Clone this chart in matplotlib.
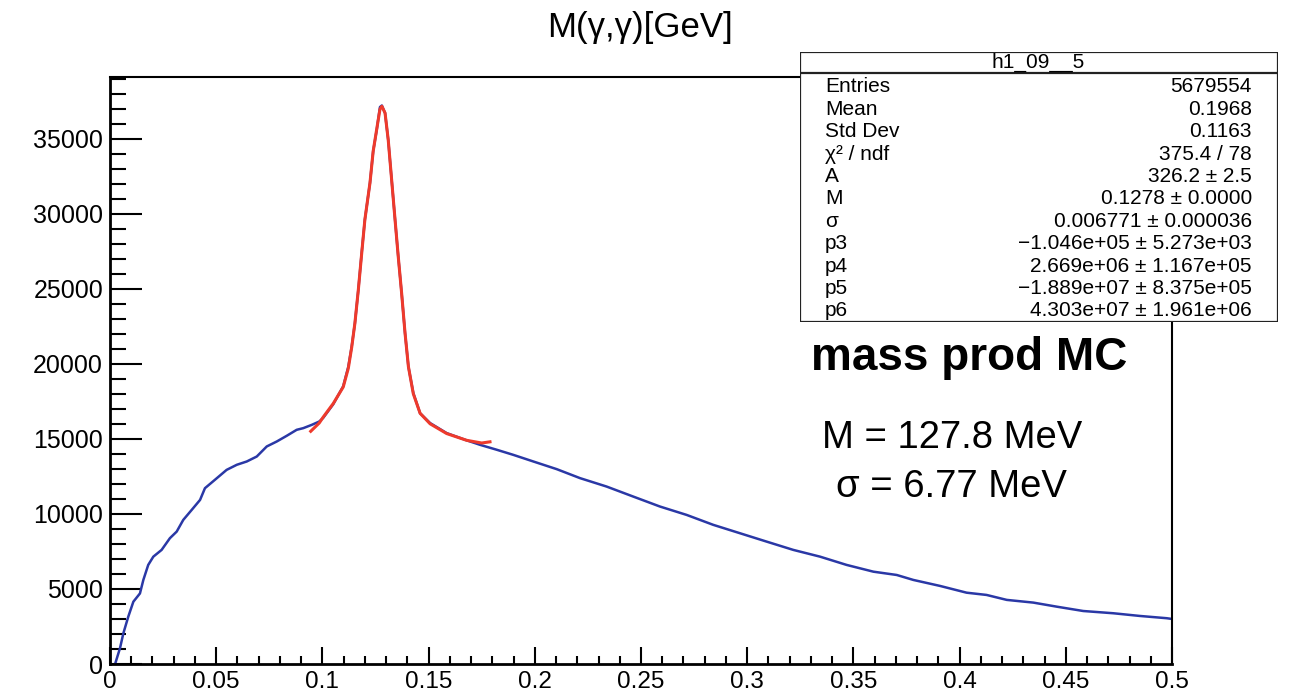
import matplotlib
matplotlib.use("Agg")
import matplotlib.pyplot as plt
from matplotlib.patches import Rectangle
from matplotlib.lines import Line2D
from matplotlib.ticker import MultipleLocator, FuncFormatter

plt.rcParams['font.family'] = ['Liberation Sans', 'DejaVu Sans']

# histogram M(gamma,gamma)
mass = [0.0024, 0.0047, 0.0063, 0.0086, 0.0110, 0.0141, 0.0157, 0.0180, 0.0204, 0.0243,
        0.0282, 0.0314, 0.0345, 0.0385, 0.0424, 0.0447, 0.0494, 0.0549, 0.0597, 0.0644,
        0.0691, 0.0738, 0.0785, 0.0832, 0.0879, 0.0910, 0.0950, 0.0985, 0.1004, 0.1051,
        0.1098, 0.1122, 0.1138, 0.1153, 0.1169, 0.1185, 0.1200, 0.1224, 0.1239, 0.1256,
        0.1271, 0.1280, 0.1295, 0.1310, 0.1326, 0.1342, 0.1357, 0.1373, 0.1389, 0.1405,
        0.1428, 0.1460, 0.1507, 0.1585, 0.1679, 0.1742, 0.1821, 0.1899, 0.1993, 0.2103,
        0.2213, 0.2338, 0.2464, 0.2589, 0.2715, 0.2840, 0.2966, 0.3092, 0.3217, 0.3343,
        0.3468, 0.3594, 0.3704, 0.3782, 0.3908, 0.4033, 0.4127, 0.4222, 0.4347, 0.4457,
        0.4582, 0.4724, 0.4849, 0.4975, 0.5000]
counts = [0, 1050, 2050, 3150, 4150, 4700, 5600, 6600, 7150, 7600,
          8380, 8820, 9600, 10270, 10930, 11710, 12270, 12930, 13270, 13490,
          13820, 14490, 14820, 15200, 15600, 15710, 15930, 16150, 16400, 17300,
          18500, 19800, 21150, 22700, 24900, 27400, 29600, 32050, 34150, 35600,
          37100, 37200, 36700, 34900, 32250, 29600, 27150, 24700, 22050, 19800,
          18050, 16700, 16050, 15380, 14900, 14600, 14270, 13930, 13490, 12980,
          12380, 11820, 11150, 10490, 9930, 9270, 8710, 8150, 7600, 7150,
          6600, 6150, 5930, 5600, 5200, 4750, 4600, 4270, 4090, 3820,
          3530, 3380, 3200, 3050, 3000]

# gaussian + pol fit (red)
fit_x = [0.0945, 0.0985, 0.1004, 0.1051, 0.1098, 0.1122, 0.1138, 0.1153, 0.1169, 0.1185,
         0.1200, 0.1224, 0.1239, 0.1256, 0.1271, 0.1280, 0.1295, 0.1310, 0.1326, 0.1342,
         0.1357, 0.1373, 0.1389, 0.1405, 0.1428, 0.1460, 0.1507, 0.1585, 0.1679, 0.1750,
         0.1789]
fit_y = [15500, 16050, 16450, 17350, 18450, 19700, 21100, 22700, 24900, 27350,
         29600, 32050, 34150, 35650, 36950, 37150, 36700, 34900, 32250, 29600,
         27150, 24700, 22050, 19800, 18000, 16700, 16000, 15350, 14900, 14720,
         14800]

stat_names = ["Entries", "Mean", "Std Dev", "χ² / ndf", "A", "M", "σ", "p3", "p4", "p5", "p6"]
stat_values = ["5679554", "0.1968", "0.1163", "375.4 / 78", "326.2 ± 2.5",
               "0.1278 ± 0.0000", "0.006771 ± 0.000036",
               "−1.046e+05 ± 5.273e+03", "2.669e+06 ± 1.167e+05",
               "−1.889e+07 ± 8.375e+05", "4.303e+07 ± 1.961e+06"]

W, H = 1289, 692
fig = plt.figure(figsize=(W / 100, H / 100), dpi=100)

def fx(px):
    return px / W

def fy(py):
    return 1 - py / H

ax = fig.add_axes([fx(110), fy(664), fx(1172) - fx(110), fy(77) - fy(664)])
ax.plot(mass, counts, color='#2a38a6', lw=1.8, zorder=2)
ax.plot(fit_x, fit_y, color='#ee3a2c', lw=2.2, zorder=3)

ax.set_xlim(0, 0.5)
ax.set_ylim(0, 39100)
ax.xaxis.set_major_locator(MultipleLocator(0.05))
ax.xaxis.set_minor_locator(MultipleLocator(0.01))
ax.yaxis.set_major_locator(MultipleLocator(5000))
ax.yaxis.set_minor_locator(MultipleLocator(1000))
ax.xaxis.set_major_formatter(FuncFormatter(lambda v, p: '%g' % round(v, 3)))
ax.tick_params(axis='x', which='major', direction='in', length=12, width=1.5, labelsize=17.5, pad=5)
ax.tick_params(axis='x', which='minor', direction='in', length=6, width=1.5)
ax.tick_params(axis='y', which='major', direction='in', length=23, width=1.5, labelsize=18, pad=5)
ax.tick_params(axis='y', which='minor', direction='in', length=11.5, width=1.5)
for s in ['left', 'bottom']:
    ax.spines[s].set_linewidth(2)
for s in ['top', 'right']:
    ax.spines[s].set_linewidth(1.5)

fig.text(fx(640), fy(37), "M(γ,γ)[GeV]", ha='center', va='baseline', fontsize=25)

# stats box
bx = fig.add_axes([fx(800), fy(322), fx(1278) - fx(800), fy(52) - fy(322)])
bx.set_xlim(800, 1278)
bx.set_ylim(322, 52)
bx.axis('off')
bx.add_patch(Rectangle((800, 52), 478, 270, facecolor='white', edgecolor='#222222', lw=1.6))
bx.add_line(Line2D([800, 1278], [73, 73], color='#222222', lw=1.6))
bx.text(1038, 68, "h1_09__5", ha='center', va='baseline', fontsize=15)
for i in range(len(stat_names)):
    yy = 92.3 + i * 22.4
    bx.text(825, yy, stat_names[i], ha='left', va='baseline', fontsize=15)
    bx.text(1252, yy, stat_values[i], ha='right', va='baseline', fontsize=15)

fig.text(fx(969), fy(370), "mass prod MC", ha='center', va='baseline', fontsize=33, fontweight='bold')
fig.text(fx(952), fy(448), "M = 127.8 MeV", ha='center', va='baseline', fontsize=27.5)
fig.text(fx(951), fy(497), "σ = 6.77 MeV", ha='center', va='baseline', fontsize=27.5)

fig.savefig("out.png", dpi=100)
